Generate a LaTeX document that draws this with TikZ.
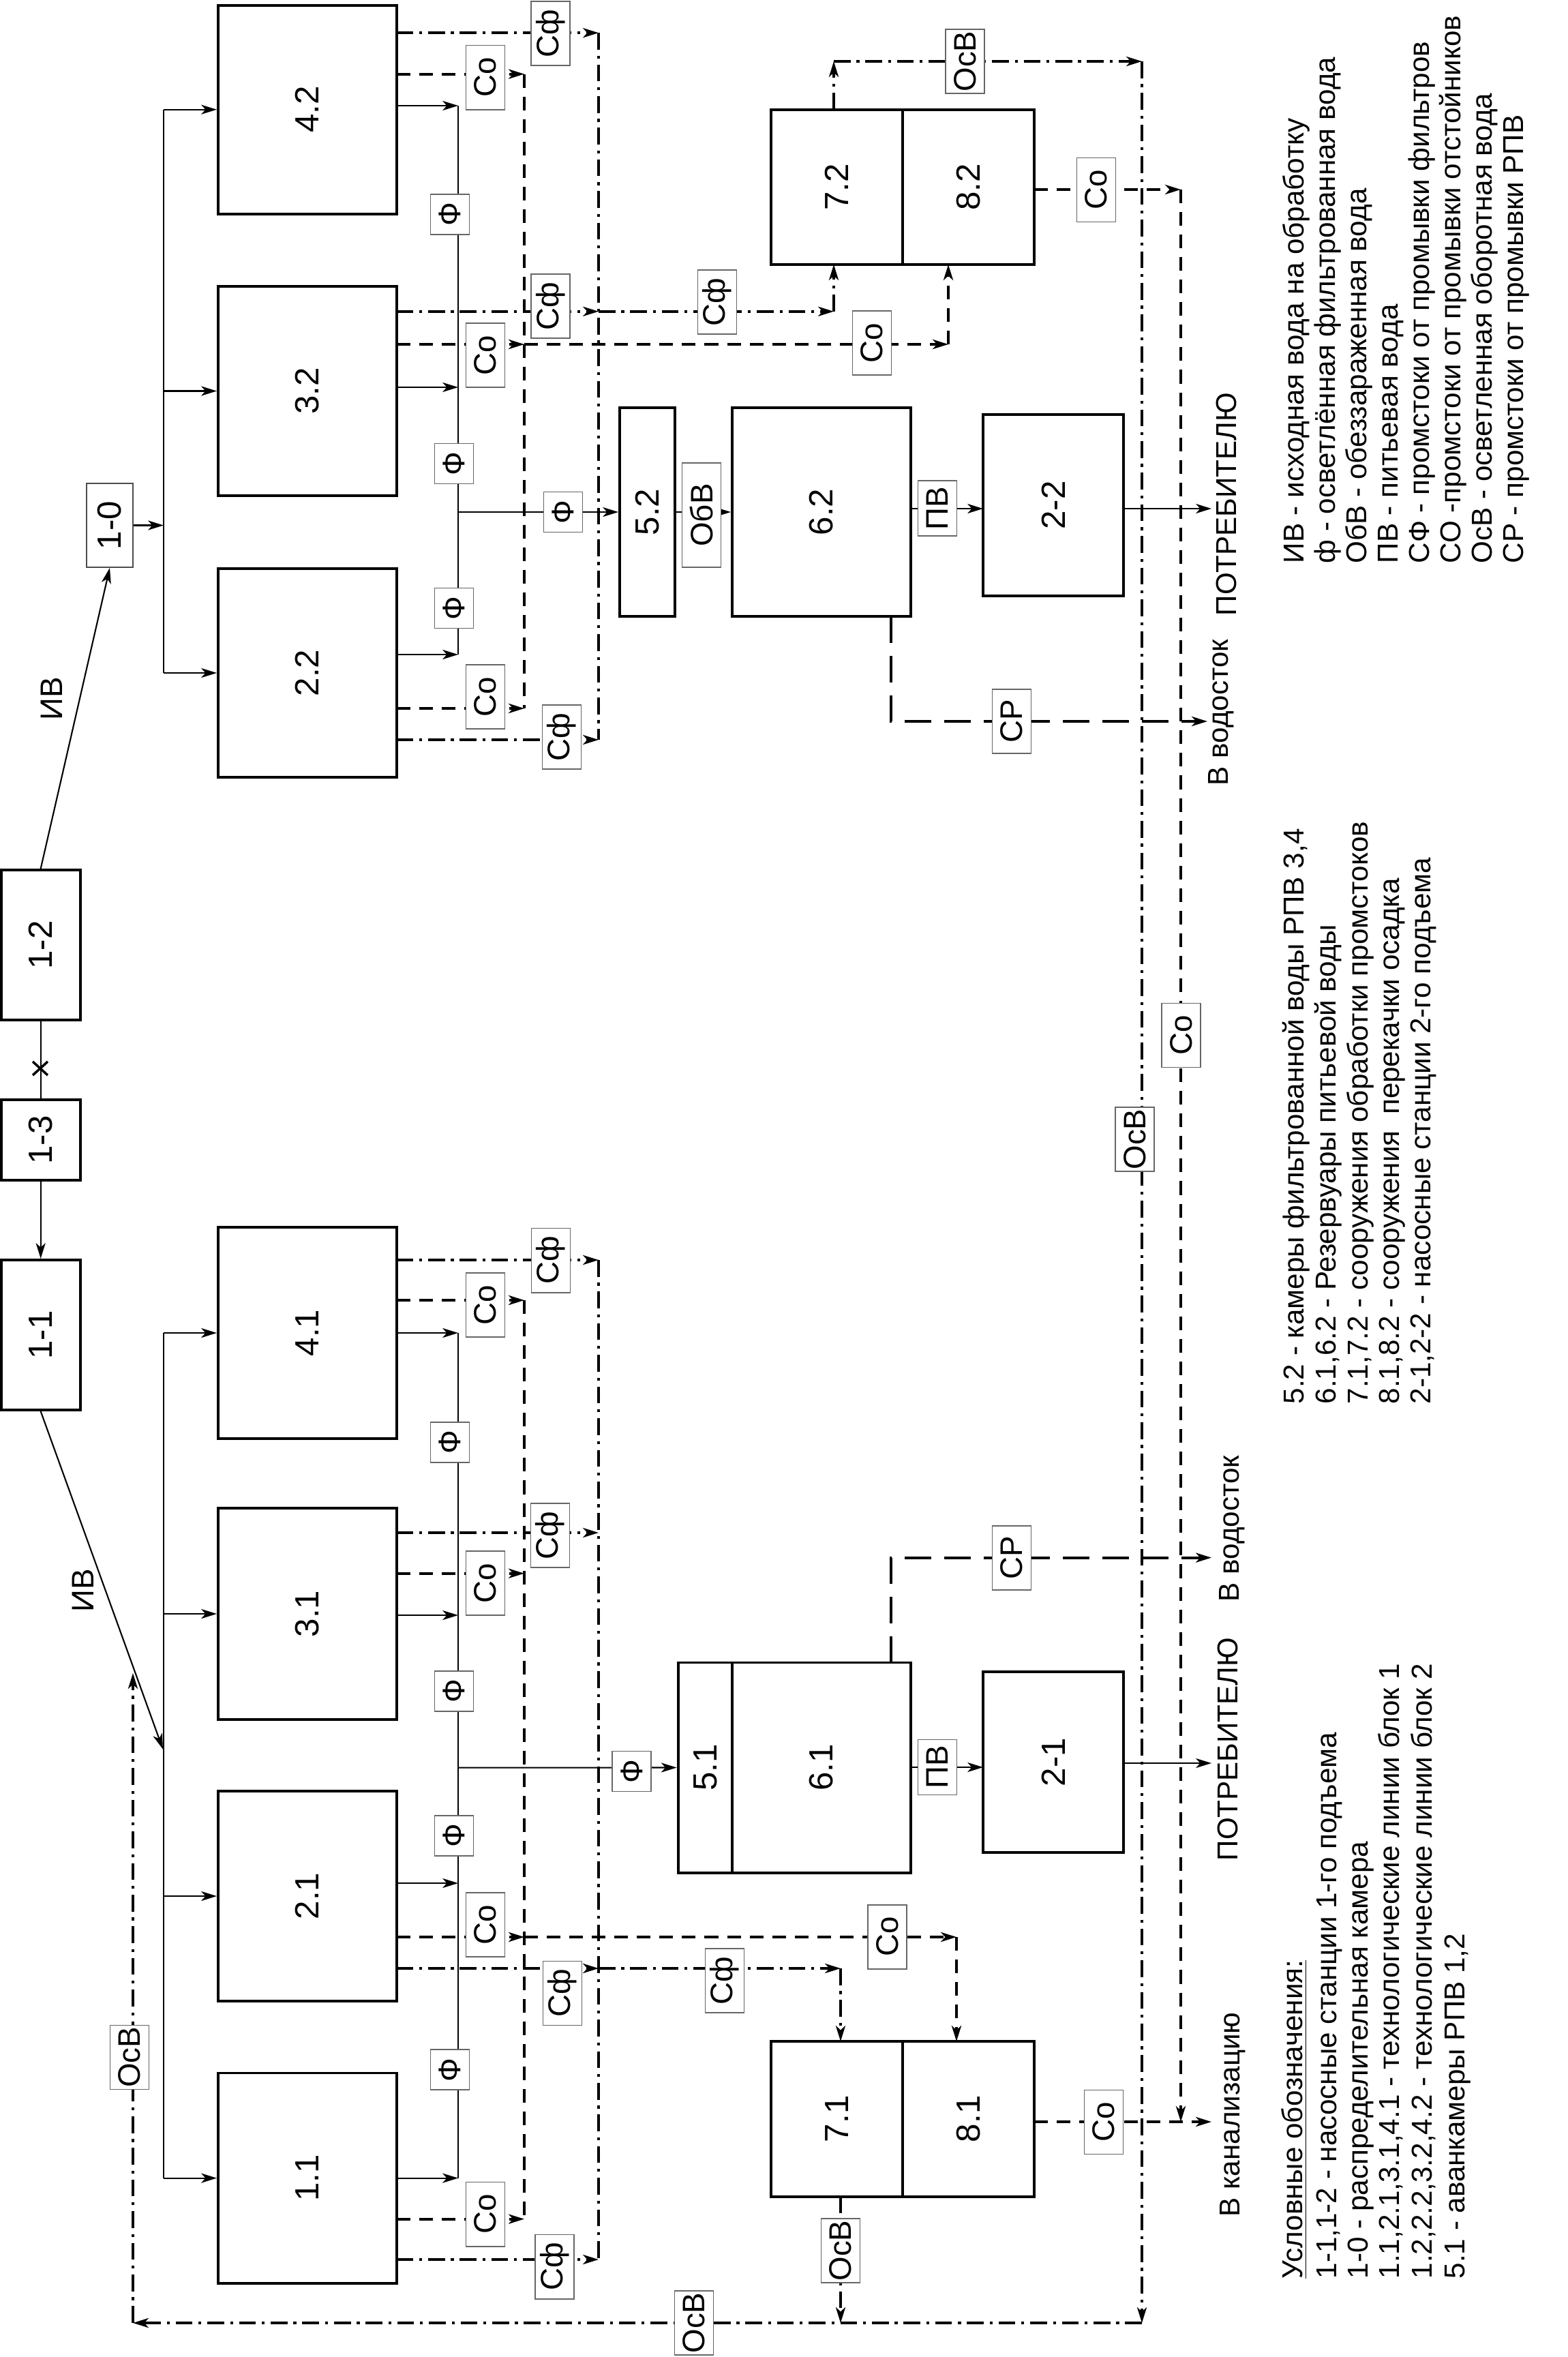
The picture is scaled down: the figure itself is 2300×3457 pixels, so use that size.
\documentclass[tikz,border=0pt]{standalone}
\usepackage{fontspec}
\setmainfont{Liberation Sans}
\usepackage{graphicx}
\usetikzlibrary{arrows.meta}
\newcommand\dfont{\fontsize{13pt}{15pt}\selectfont}
\newcommand\bfontsz{\fontsize{14pt}{16pt}\selectfont}
\newcommand\lgfont{\fontsize{12pt}{14pt}\selectfont}
\newcommand\rot[1]{\rotatebox{90}{#1}}
\tikzset{
  box/.style={draw, line width=1.1pt, inner sep=0pt, font=\bfontsz},
  lbl/.style={draw=black!60, line width=0.5pt, fill=white, inner sep=0pt, font=\dfont, minimum width=0.57cm},
  lco/.style={lbl, minimum height=0.94cm},
  lf/.style={lbl, minimum height=0.59cm},
  sol/.style={line width=0.6pt},
  dsh/.style={line width=1.1pt, dash pattern=on 5.7pt off 3.7pt},
  dd/.style={line width=1pt, dash pattern=on 7pt off 2.5pt on 1.2pt off 2.5pt},
  ldsh/.style={line width=1.1pt, dash pattern=on 11pt off 5.5pt},
  txt/.style={rotate=90, anchor=base west, inner sep=0pt, font=\lgfont},
}
\begin{document}
\begin{tikzpicture}[x=0.01cm, y=-0.01cm, >={Stealth[length=6.5pt,width=4pt,inset=1.8pt]}]
\fill[white] (0,0) rectangle (2300,3457);
\useasboundingbox (0,0) rectangle (2300,3457);

% ---------- boxes block 2
\node[box, minimum width=2.615cm, minimum height=3.06cm] (b42) at (450.75,160.7) {\rot{4.2}};
\node[box, minimum width=2.615cm, minimum height=3.07cm] (b32) at (450.75,573.5) {\rot{3.2}};
\node[box, minimum width=2.615cm, minimum height=3.06cm] (b22) at (450.75,987) {\rot{2.2}};
% ---------- boxes block 1
\node[box, minimum width=2.615cm, minimum height=3.10cm] (b41) at (450.75,1955) {\rot{4.1}};
\node[box, minimum width=2.615cm, minimum height=3.10cm] (b31) at (450.75,2367) {\rot{3.1}};
\node[box, minimum width=2.615cm, minimum height=3.08cm] (b21) at (450.75,2781) {\rot{2.1}};
\node[box, minimum width=2.615cm, minimum height=3.08cm] (b11) at (450.75,3194.6) {\rot{1.1}};
% ---------- pumping stations
\node[lbl, draw=black!70, font=\bfontsz, minimum width=0.68cm, minimum height=1.23cm] (b10) at (161,770.5) {\rot{1-0}};
\node[box, minimum width=1.16cm, minimum height=2.196cm] (s12) at (59.7,1385.8) {\rot{1-2}};
\node[box, minimum width=1.16cm, minimum height=1.184cm] (s13) at (59.7,1671.8) {\rot{1-3}};
\node[box, minimum width=1.16cm, minimum height=2.2cm] (s11) at (59.7,1958) {\rot{1-1}};
% ---------- block 2 right
\node[box, minimum width=0.81cm, minimum height=3.06cm] (b52) at (949.5,751) {\rot{5.2}};
\node[box, minimum width=2.62cm, minimum height=3.06cm] (b62) at (1205,751) {\rot{6.2}};
\node[box, minimum width=2.06cm, minimum height=2.665cm] (p22) at (1545,741) {\rot{2-2}};
\node[box, minimum width=1.93cm, minimum height=2.273cm] (b72) at (1227.5,274.4) {\rot{7.2}};
\node[box, minimum width=1.93cm, minimum height=2.273cm] (b82) at (1420.5,274.4) {\rot{8.2}};
% ---------- block 1 right
\node[box, minimum width=0.794cm, minimum height=3.08cm] (b51) at (1034.3,2592.5) {\rot{5.1}};
\node[box, minimum width=2.62cm, minimum height=3.08cm] (b61) at (1205,2592.5) {\rot{6.1}};
\node[box, minimum width=2.06cm, minimum height=2.653cm] (p21) at (1545,2584.4) {\rot{2-1}};
\node[box, minimum width=1.93cm, minimum height=2.275cm] (b71) at (1227.5,3107.75) {\rot{7.1}};
\node[box, minimum width=1.93cm, minimum height=2.275cm] (b81) at (1420.5,3107.75) {\rot{8.1}};

% ---------- source lines
\draw[sol,->] (s12.north) -- (b10.south);
\draw[sol] (s12.south) -- (s13.north);
\draw[line width=1pt] (48,1557) -- (70,1577) (48,1577) -- (70,1557);
\draw[sol,->] (s13.south) -- (s11.north);
\coordinate (in1) at (239,2565.6);
\draw[sol,->] (s11.south) -- (in1);
\node[rotate=90, font=\dfont] (iv2) at (76,1025) {ИВ};
\node[rotate=90, font=\dfont] (iv1) at (122,2333) {ИВ};

% ---------- block 2 connectors
\draw[sol,->] (b10.east) -- (240,770.5);
\draw[sol] (240,160.7) -- (240,987);
\draw[sol,->] (240,160.7) -- (b42.west);
\draw[sol,->] (240,573.5) -- (b32.west);
\draw[sol,->] (240,987) -- (b22.west);
\draw[sol] (672,155) -- (672,960);
\draw[sol,->] (581.5,155) -- (672,155);
\draw[sol,->] (581.5,568) -- (672,568);
\draw[sol,->] (581.5,960) -- (672,960);
\draw[sol,->] (672,751) -- (b52.west);
\draw[sol,->] (b52.east) -- (b62.west);
\draw[sol,->] (1336,746) -- (1442,746);
\draw[sol,->] (1648,746) -- (1777,746);
% Co collector
\draw[dsh] (769,108.6) -- (769,1039);
\draw[dsh,->] (581.5,108.6) -- (769,108.6);
\draw[dsh,->] (581.5,505) -- (769,505);
\draw[dsh,->] (769,505) -- (1391,505);
\draw[dsh,->] (1391,505) -- (1391,388);
\draw[dsh,->] (581.5,1039) -- (769,1039);
% Cf collector
\draw[dd] (878,48.2) -- (878,1085);
\draw[dd,->] (581.5,48.2) -- (878,48.2);
\draw[dd,->] (581.5,456.8) -- (878,456.8);
\draw[dd,->] (878,456.8) -- (1223,456.8);
\draw[dd,->] (1223,456.8) -- (1223,388);
\draw[dd,->] (581.5,1085) -- (878,1085);
% OsV recirculation
\draw[dd,->] (1223,160.7) -- (1223,90);
\draw[dd,->] (1223,90) -- (1675,90);
\draw[dd,->] (1675,90) -- (1675,3407);
\draw[dd,->] (1675,3407) -- (195,3407);
\draw[dd,->] (195,3407) -- (195,2454);
% Co to sewer
\draw[dsh,->] (1517,278) -- (1732,278);
\draw[dsh,->] (1732,278) -- (1732,3112);
% CP
\draw[ldsh,->] (1307,904) -- (1307,1058) -- (1771,1058);

% ---------- block 1 connectors
\draw[sol] (240,1955) -- (240,3194.6);
\draw[sol,->] (240,1955) -- (b41.west);
\draw[sol,->] (240,2367) -- (b31.west);
\draw[sol,->] (240,2781) -- (b21.west);
\draw[sol,->] (240,3194.6) -- (b11.west);
\draw[sol] (672,1955) -- (672,3194.6);
\draw[sol,->] (581.5,1955) -- (672,1955);
\draw[sol,->] (581.5,2369) -- (672,2369);
\draw[sol,->] (581.5,2762) -- (672,2762);
\draw[sol,->] (581.5,3194.6) -- (672,3194.6);
\draw[sol,->] (672,2592.6) -- (b51.west);
\draw[sol,->] (1336,2592) -- (1442,2592);
\draw[sol,->] (1648,2586) -- (1777,2586);
\draw[dsh] (769,1907) -- (769,3254.6);
\draw[dsh,->] (581.5,1907) -- (769,1907);
\draw[dsh,->] (581.5,2307.7) -- (769,2307.7);
\draw[dsh,->] (581.5,2841) -- (769,2841);
\draw[dsh,->] (769,2841) -- (1403,2841);
\draw[dsh,->] (1403,2841) -- (1403,2994);
\draw[dsh,->] (581.5,3254.6) -- (769,3254.6);
\draw[dd] (878,1848) -- (878,3314);
\draw[dd,->] (581.5,1848) -- (878,1848);
\draw[dd,->] (581.5,2248) -- (878,2248);
\draw[dd,->] (581.5,2887) -- (878,2887);
\draw[dd,->] (878,2887) -- (1233,2887);
\draw[dd,->] (1233,2887) -- (1233,2994);
\draw[dd,->] (581.5,3314) -- (878,3314);
\draw[dd,->] (1233,3221.5) -- (1233,3407);
\draw[dsh,->] (1517,3112) -- (1777,3112);
\draw[ldsh,->] (1307,2438.6) -- (1307,2284.6) -- (1777,2284.6);

% ---------- labels block 2
\node[lco] at (712,113.6) {\rot{Со}};
\node[lco] at (807.5,49) {\rot{Сф}};
\node[lf] at (660,314.5) {\rot{Ф}};
\node[lco] at (712,521) {\rot{Со}};
\node[lco] at (807.5,449) {\rot{Сф}};
\node[lf] at (666,680) {\rot{Ф}};
\node[lf] at (826,751) {\rot{Ф}};
\node[lf] at (666,892) {\rot{Ф}};
\node[lco] at (712,1022) {\rot{Со}};
\node[lco] at (824,1081) {\rot{Сф}};
\node[lbl, minimum height=1.53cm] at (1029,755.5) {\rot{ОбВ}};
\node[lbl, minimum height=0.81cm] at (1375,745.5) {\rot{ПВ}};
\node[lco] at (1052,443) {\rot{Сф}};
\node[lco] at (1279,503) {\rot{Со}};
\node[lco] at (1415.5,90) {\rot{ОсВ}};
\node[lco] at (1608,278.5) {\rot{Со}};
\node[lco] at (1484,1058) {\rot{СР}};
\node[lco] at (1664.5,1671) {\rot{ОсВ}};
\node[lco] at (1732.6,1518.5) {\rot{Со}};
% ---------- labels block 1
\node[lco] at (808,1848.6) {\rot{Сф}};
\node[lco] at (712,1914) {\rot{Со}};
\node[lf] at (660,2115.5) {\rot{Ф}};
\node[lco] at (807,2252) {\rot{Сф}};
\node[lco] at (712,2322) {\rot{Со}};
\node[lf] at (666,2480.5) {\rot{Ф}};
\node[lf] at (926.5,2598) {\rot{Ф}};
\node[lf] at (666,2692.5) {\rot{Ф}};
\node[lco] at (712,2823) {\rot{Со}};
\node[lco] at (825,2923.5) {\rot{Сф}};
\node[lf] at (660,3035.6) {\rot{Ф}};
\node[lco] at (712,3247.6) {\rot{Со}};
\node[lco] at (813.5,3324.6) {\rot{Сф}};
\node[lco] at (1484,2285) {\rot{СР}};
\node[lbl, minimum height=0.81cm] at (1375,2592) {\rot{ПВ}};
\node[lco] at (1301.5,2840.7) {\rot{Со}};
\node[lco] at (1063,2905) {\rot{Сф}};
\node[lco] at (1233,3301) {\rot{ОсВ}};
\node[lco] at (1018,3407) {\rot{ОсВ}};
\node[lco] at (1619,3112.5) {\rot{Со}};
\node[lco] at (190,3017.5) {\rot{ОсВ}};

% ---------- destinations
\node[txt] (t1) at (1813,904) {ПОТРЕБИТЕЛЮ};
\node[txt] (t2) at (1801,1153) {В водосток};
\node[txt] (t3) at (1817,2350) {В водосток};
\node[txt] (t4) at (1815,2730) {ПОТРЕБИТЕЛЮ};
\node[txt] (t5) at (1818,3252) {В канализацию};

% ---------- legend right
\node[txt] at (1912,827) {ИВ - исходная вода на обработку};
\node[txt] at (1958,827) {ф - осветлённая фильтрованная вода};
\node[txt] at (2004,827) {ОбВ - обеззараженная вода};
\node[txt] at (2050,827) {ПВ - питьевая вода};
\node[txt] at (2096,827) {СФ - промстоки от промывки фильтров};
\node[txt] at (2142,827) {СО -промстоки от промывки отстойников};
\node[txt] at (2188,827) {ОсВ - осветленная оборотная вода};
\node[txt] at (2234,827) {СР - промстоки от промывки РПВ};
% ---------- legend middle
\node[txt] at (1912,2060) {5.2 - камеры фильтрованной воды РПВ 3,4};
\node[txt] at (1959,2060) {6.1,6.2 - Резервуары питьевой воды};
\node[txt] at (2006,2060) {7.1,7.2 - сооружения обработки промстоков};
\node[txt] at (2052,2060) {8.1,8.2 - сооружения\ \ перекачки осадка};
\node[txt] at (2098,2060) {2-1,2-2 - насосные станции 2-го подъема};
% ---------- legend bottom
\node[txt] at (1910,3343) {\underline{Условные обозначения:}};
\node[txt] at (1960,3343) {1-1,1-2 - насосные станции 1-го подъема};
\node[txt] at (2006,3343) {1-0 - распределительная камера};
\node[txt] at (2052,3343) {1.1,2.1,3.1,4.1 - технологические линии блок 1};
\node[txt] at (2100,3343) {1.2,2.2,3.2,4.2 - технологические линии блок 2};
\node[txt] at (2148,3343) {5.1 - аванкамеры РПВ 1,2};
\end{tikzpicture}
\end{document}
